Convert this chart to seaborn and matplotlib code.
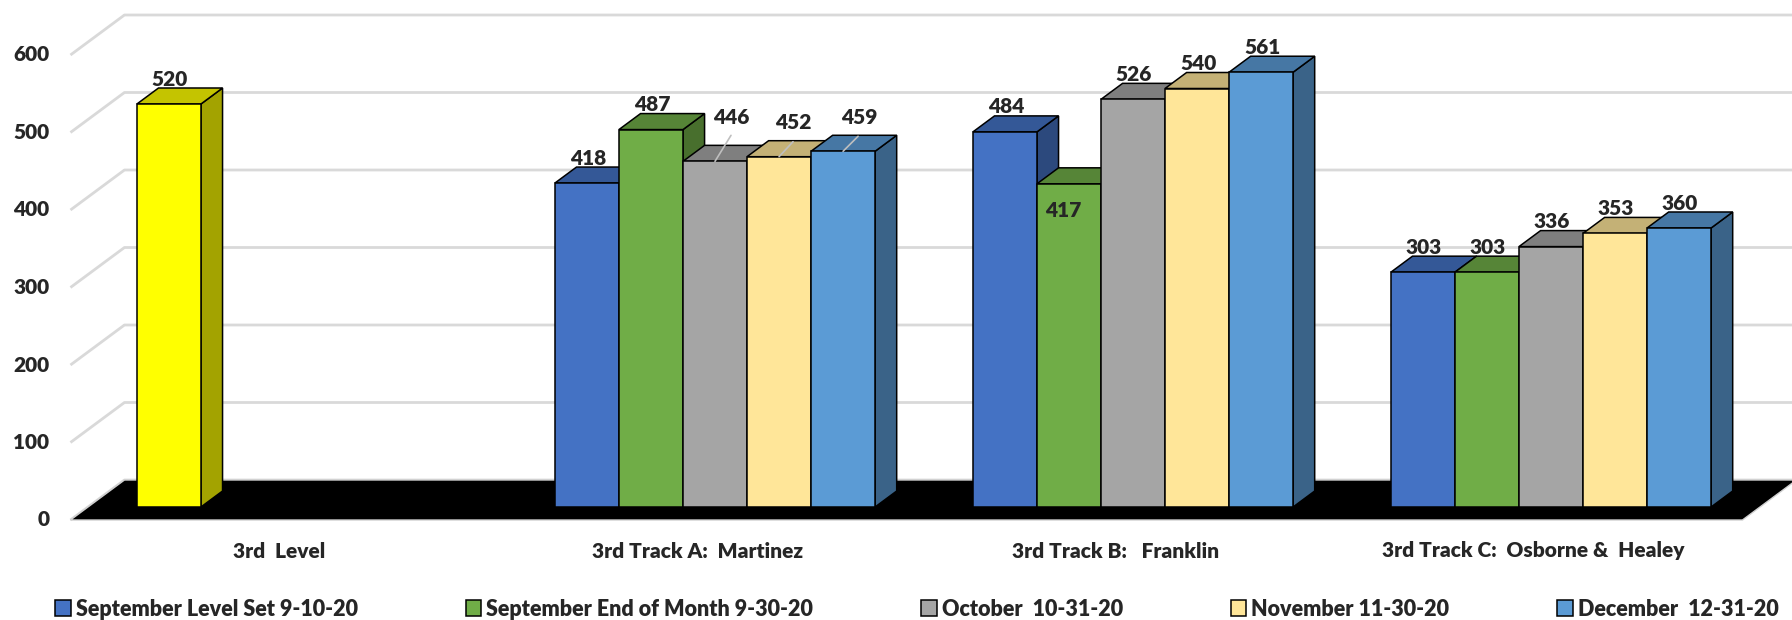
import seaborn as sns
import matplotlib.pyplot as plt
import pandas as pd
import numpy as np
from matplotlib.patches import Polygon, Patch
from matplotlib.colors import to_rgb

# Data
categories = ["3rd  Level", "3rd Track A:  Martinez", "3rd Track B:   Franklin",
              "3rd Track C:  Osborne &  Healey"]
series = ["September Level Set 9-10-20", "September End of Month 9-30-20",
          "October  10-31-20", "November 11-30-20", "December  12-31-20"]
sep_level_set = [520, 418, 484, 303]
sep_end_month = [None, 487, 417, 303]
october = [None, 446, 526, 336]
november = [None, 452, 540, 353]
december = [None, 459, 561, 360]
y_ticks = [0, 100, 200, 300, 400, 500, 600]

colors = ["#4472C4", "#70AD47", "#A5A5A5", "#FFE699", "#5B9BD5"]
highlight = {(0, 0): "#FFFF00"}  # (category, series) -> colour override

# label offsets in pixels (default is centred just above the bar)
label_offset = {(1, 2): (16, 44), (1, 3): (14, 34), (1, 4): (16, 34), (2, 1): (-6, -27)}
leader = {(1, 2): (16, 26), (1, 3): (14, 15), (1, 4): (15, 15)}

rows = []
for s, vals in zip(series, [sep_level_set, sep_end_month, october, november, december]):
    for c, v in zip(categories, vals):
        if v is not None:
            rows.append({"Category": c, "Series": s, "Value": v})
df = pd.DataFrame(rows)

sns.set_style("white")
plt.rcParams["font.family"] = ["Lato", "DejaVu Sans"]
WEIGHT = "heavy"
FS = 15

W, H = 1792, 620
fig = plt.figure(figsize=(W / 100, H / 100), dpi=100)
ax = fig.add_axes([0, 0, 1, 1])

sns.barplot(data=df, x="Category", y="Value", hue="Series", order=categories,
            hue_order=series, palette=colors, width=0.766, edgecolor="black",
            linewidth=1.1, saturation=1, legend=False, ax=ax)

# pixel geometry of the fake 3D box
PX_CAT, PX_UNIT, CAT0_PX, BASE_PX = 418, 0.775, 297, 507
ax.set_xlim(-CAT0_PX / PX_CAT, (W - CAT0_PX) / PX_CAT)
ax.set_ylim(-(H - BASE_PX) / PX_UNIT, BASE_PX / PX_UNIT)
ax.axis("off")
ddx, ddy = 54 / PX_CAT, 40 / PX_UNIT
Z_FRONT, Z_DEPTH = 0.325, 0.4


def proj(x, y, z):
    return x + (z - Z_FRONT) * ddx, y + (z - Z_FRONT) * ddy


n = len(categories)
# floor
fl = [proj(-0.5, 0, 0), proj(n - 0.5, 0, 0), proj(n - 0.5, 0, 1), proj(-0.5, 0, 1)]
ax.add_patch(Polygon(fl, closed=True, facecolor="black", edgecolor="#d0d0d0",
                     lw=1, zorder=0.8))
# walls gridlines
for v in y_ticks:
    x0, y0 = proj(-0.5, v, 0)
    x1, y1 = proj(-0.5, v, 1)
    x2, y2 = proj(n - 0.5, v, 1)
    ax.plot([x0, x1, x2], [y0, y1, y1], color="#d9d9d9", lw=2, zorder=0.5,
            solid_capstyle="butt")
    ax.text(x0 - 21 / PX_CAT, y0, str(v), ha="right", va="center",
            fontsize=FS, fontweight=WEIGHT)

# category labels under the floor
for i, c in enumerate(categories):
    x, y = proj(i, 0, 0)
    ax.text(x, y - 31 / PX_UNIT, c, ha="center", va="center", fontsize=FS,
            fontweight=WEIGHT)

# 3D faces for each bar
bars = []
for s_idx, cont in enumerate(ax.containers):
    for p in cont:
        c_idx = int(round(p.get_x() + p.get_width() / 2))
        bars.append((p.get_x(), s_idx, c_idx, p))
bars.sort(key=lambda b: b[0])

for x0, s_idx, c_idx, p in bars:
    h = p.get_height()
    if not np.isfinite(h):
        continue
    col = highlight.get((c_idx, s_idx), colors[s_idx])
    p.set_facecolor(col)
    p.set_zorder(3)
    x1 = x0 + p.get_width()
    bdx, bdy = Z_DEPTH * ddx, Z_DEPTH * ddy
    rgb = np.array(to_rgb(col))
    side = [(x1, 0), (x1 + bdx, bdy), (x1 + bdx, h + bdy), (x1, h)]
    top = [(x0, h), (x1, h), (x1 + bdx, h + bdy), (x0 + bdx, h + bdy)]
    ax.add_patch(Polygon(side, closed=True, facecolor=rgb * 0.64, edgecolor="black",
                         lw=1.1, zorder=2))
    ax.add_patch(Polygon(top, closed=True, facecolor=rgb * 0.77, edgecolor="black",
                         lw=1.1, zorder=2))
    cx = (x0 + x1) / 2
    off = label_offset.get((c_idx, s_idx), (1, 25))
    if (c_idx, s_idx) in leader:
        ax.annotate("", xy=(cx, h), xytext=leader[(c_idx, s_idx)],
                    textcoords="offset pixels",
                    arrowprops=dict(arrowstyle="-", color="#bfbfbf", lw=1.2,
                                    shrinkA=0, shrinkB=0), zorder=4)
    ax.annotate(f"{int(h)}", xy=(cx, h), xytext=off, textcoords="offset pixels",
                ha="center", va="center", fontsize=FS, fontweight=WEIGHT, zorder=5)

handles = [Patch(facecolor=c, edgecolor="black", lw=1.1, label=s)
           for c, s in zip(colors, series)]
fig.legend(handles=handles, loc="center left", bbox_to_anchor=(55 / W, 11 / H), ncol=5,
           frameon=False, prop={"weight": WEIGHT, "size": 15.5}, borderpad=0,
           borderaxespad=0, handlelength=0.74, handleheight=0.74, handletextpad=0.23,
           columnspacing=5.0)

plt.savefig("out.png", dpi=100)
plt.close()
